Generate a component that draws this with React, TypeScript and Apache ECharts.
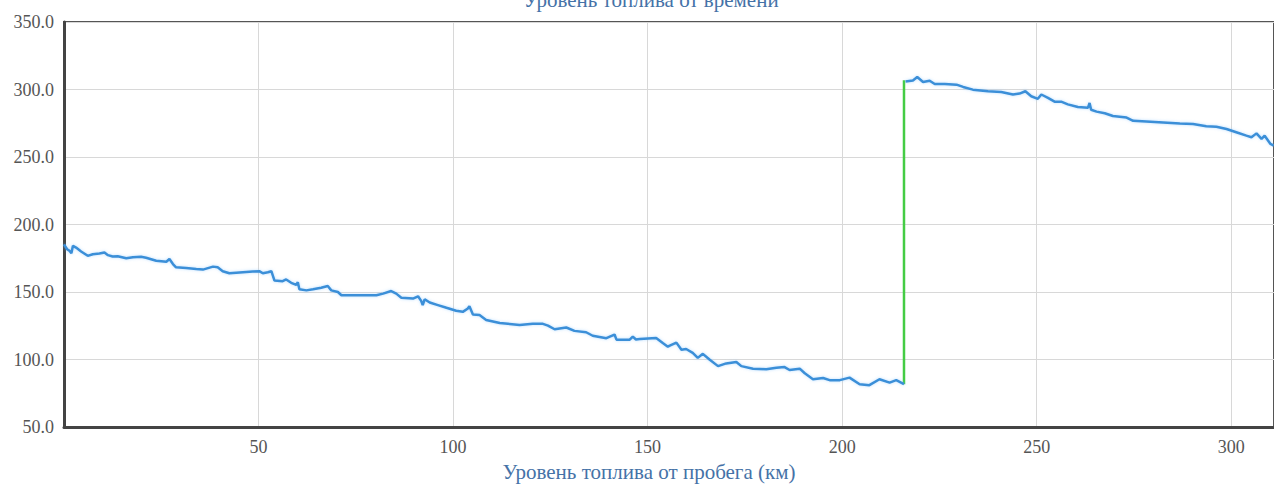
import React, { useEffect, useRef } from "react";
import * as echarts from "echarts";

const titleText = "Уровень топлива от времени";
const xAxisName = "Уровень топлива от пробега (км)";

// Before refuelling: distance (km) and fuel level
const distanceBefore = [
  0, 0.8, 1.4, 1.9, 2.3, 3.1, 4.4, 6.1, 7.4, 9.1, 10.4, 11.3, 12.5, 13.8, 16, 17.7, 19.8, 21.1, 23.7, 26.3,
  27.1, 28, 28.8, 31.4, 34, 35.7, 38.3, 39.5, 40.8, 42.5, 46, 48.5, 50.3, 51.1, 52.4, 53.3, 54.1, 56.2, 57.1, 58.4,
  59.7, 60.1, 60.5, 62.3, 64, 66.1, 67.8, 68.7, 70.4, 71.3, 74.2, 77.7, 80.3, 82, 84.1, 85.4, 86.7, 89.7, 91, 91.8,
  92.2, 92.7, 94, 96.1, 98.3, 100.8, 102.5, 103.8, 104.2, 105.1, 106.8, 108.5, 112, 117.1, 120.5, 123.1, 124.4, 126.1, 129.1, 131.2,
  134.2, 135.9, 139.4, 141.5, 142, 145.4, 146.2, 147, 148, 152.2, 153.9, 155.2, 155.7, 157.4, 158.7, 159.9, 161.6, 162.9, 164.2, 165.9,
  168.1, 170.2, 172.8, 174.1, 177.1, 180.5, 183.1, 185.2, 186.5, 189.1, 190.4, 192.5, 195.1, 196.8, 199.4, 201.9, 204.5, 207, 209.6, 212.2,
  213.9, 215.9,
];
const fuelBefore = [
  185.3, 181.7, 180.5, 178.7, 184.2, 182.9, 180, 176.8, 178, 178.5, 179.2, 177.3, 176.3, 176.5, 175, 175.8, 176.1, 175.4, 173.2, 172.4,
  174.4, 170.7, 168.3, 167.8, 167, 166.6, 168.8, 168.3, 165.4, 163.9, 164.6, 165.1, 165.3, 163.9, 164.6, 165.4, 158.5, 158, 159.3, 156.8,
  155.3, 157.3, 152, 151.2, 152, 153.1, 154.4, 151.2, 150, 147.6, 147.6, 147.6, 147.6, 148.8, 150.7, 148.8, 145.8, 145.1, 146.8, 143.4,
  140.3, 144.6, 142.2, 140.3, 138.3, 136.1, 135.3, 137.8, 139.5, 133.4, 132.9, 129.3, 127, 125.6, 126.4, 126.4, 125.1, 122.4, 123.7, 121.2,
  120.2, 117.6, 115.8, 118.5, 114.7, 114.7, 117, 114.8, 115.1, 116, 112.2, 109.5, 110.3, 112.5, 107.3, 107.8, 104.9, 101.2, 104.2, 100,
  95.1, 97.1, 98.2, 95.1, 93.2, 92.7, 93.9, 94.4, 92.2, 93.2, 89.8, 85.4, 86.3, 84.7, 84.7, 86.6, 81.7, 81, 85.4, 82.9,
  84.7, 81.7,
];

// Refuelling jump
const refuelDistance = [215.9, 215.9];
const refuelFuel = [81.7, 306.8];

// After refuelling
const distanceAfter = [
  216.3, 218.2, 219.3, 220.8, 222.5, 223.8, 226.4, 229.4, 231.1, 233.6, 237.5, 240.9, 243.9, 245.6, 247.1, 248.6, 250.3, 251.2, 252.9, 254.6,
  256.3, 258, 260.6, 263.2, 263.6, 264, 265.4, 267.5, 269.6, 273.1, 274.8, 278.2, 282.5, 286.8, 290.2, 293.6, 296.2, 298.8, 301.3, 303.9,
  305.2, 306.5, 307.8, 308.6, 310.1, 310.9,
];
const fuelAfter = [
  306, 306.7, 309.2, 305.6, 306.5, 304.1, 304.1, 303.6, 301.9, 299.9, 298.7, 298.2, 296.3, 297, 298.7, 295, 293.1, 296.3, 293.8, 291,
  291, 289, 287, 286.5, 290, 285, 283.6, 282.4, 280.4, 279.2, 276.8, 276.3, 275.6, 274.9, 274.4, 272.7, 272.4, 270.7, 268.3, 265.8,
  264.6, 267.5, 263.4, 265.8, 259.7, 258.5,
];

const zip = (xs: number[], ys: number[]) => xs.map((x, i) => [x, ys[i]]);

export default function App() {
  const ref = useRef<HTMLDivElement>(null);
  useEffect(() => {
    if (!ref.current) return;
    const chart = echarts.init(ref.current, undefined, { renderer: "svg" });
    const font = "'Liberation Serif', 'Times New Roman', serif";
    const blueLine = {
      color: "#3a8fd8",
      width: 2.5,
      shadowColor: "rgba(120,190,255,0.5)",
      shadowBlur: 3,
    };
    chart.setOption({
      animation: false,
      backgroundColor: "#ffffff",
      title: {
        text: titleText,
        left: 651,
        textAlign: "center",
        top: -11,
        padding: 0,
        textStyle: { color: "#4572A7", fontFamily: font, fontSize: 21, fontWeight: "normal" },
      },
      grid: {
        left: 64,
        right: -2,
        top: 22,
        bottom: 55,
        show: true,
        borderColor: "#555",
        borderWidth: 2,
        backgroundColor: "transparent",
      },
      xAxis: {
        type: "value",
        min: 0,
        max: 311,
        interval: 50,
        name: xAxisName,
        nameLocation: "middle",
        nameGap: 34,
        nameTextStyle: { color: "#4572A7", fontFamily: font, fontSize: 21, padding: [0, 40, 0, 0] },
        axisLine: { show: true, onZero: false, lineStyle: { color: "#444", width: 3 } },
        axisTick: { show: false },
        axisLabel: {
          color: "#555",
          fontFamily: font,
          fontSize: 18,
          margin: 11,
          showMinLabel: false,
          showMaxLabel: false,
        },
        splitLine: { show: true, lineStyle: { color: "#d8d8d8", width: 1 } },
      },
      yAxis: {
        type: "value",
        min: 50,
        max: 350,
        interval: 50,
        axisLine: { show: true, lineStyle: { color: "#444", width: 3 } },
        axisTick: { show: false },
        axisLabel: {
          color: "#555",
          fontFamily: font,
          fontSize: 18,
          margin: 10,
          formatter: (v: number) => v.toFixed(1),
        },
        splitLine: { show: true, lineStyle: { color: "#d8d8d8", width: 1 } },
      },
      series: [
        {
          type: "line",
          data: zip(distanceBefore, fuelBefore),
          showSymbol: false,
          lineStyle: blueLine,
          z: 3,
        },
        {
          type: "line",
          data: zip(refuelDistance, refuelFuel),
          showSymbol: false,
          lineStyle: { color: "#44cc44", width: 2.5 },
          z: 2,
        },
        {
          type: "line",
          data: zip(distanceAfter, fuelAfter),
          showSymbol: false,
          lineStyle: blueLine,
          z: 3,
        },
      ],
    });
    return () => chart.dispose();
  }, []);
  return (
    <div
      ref={ref}
      style={{ position: "fixed", left: 0, top: 0, width: 1274, height: 487 }}
    />
  );
}
